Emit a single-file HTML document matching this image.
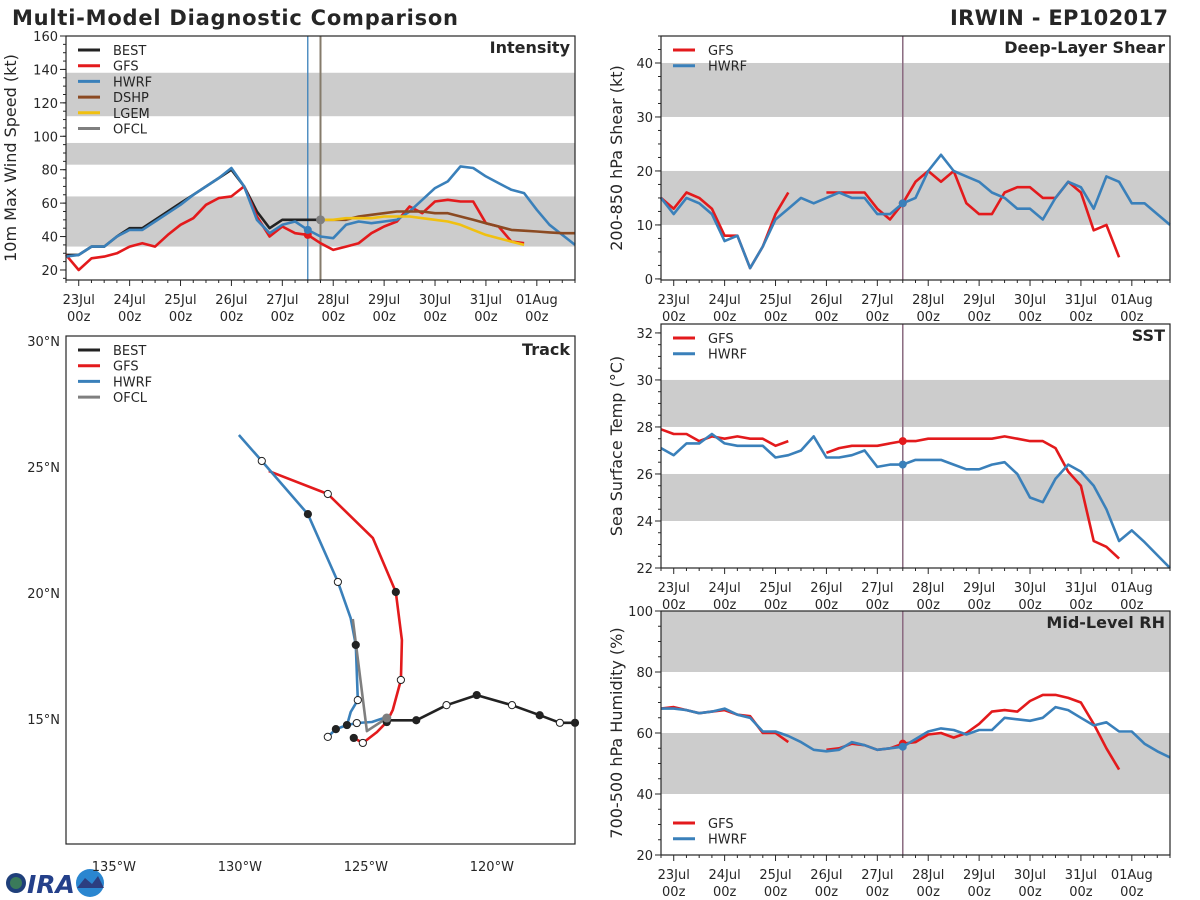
<!DOCTYPE html>
<html><head><meta charset="utf-8"><style>
html,body{margin:0;padding:0;background:#fff;}
svg{display:block;font-family:"DejaVu Sans","Liberation Sans",sans-serif;}
</style></head><body>
<svg id="fig" width="1200" height="900" viewBox="0 0 1200 900" xmlns="http://www.w3.org/2000/svg">
<text x="12" y="25" font-size="21" font-weight="bold" fill="#262626" textLength="446">Multi-Model Diagnostic Comparison</text>
<text x="1168" y="25" font-size="21" font-weight="bold" fill="#262626" text-anchor="end" textLength="218">IRWIN - EP102017</text>
<g>
<circle cx="16" cy="883" r="10" fill="#1f3f7a"/><circle cx="16" cy="883" r="6" fill="#3a7a5a"/>
<text x="27" y="893" font-size="25" font-weight="bold" fill="#24408a" font-style="italic">IRA</text>
<circle cx="90" cy="883" r="14" fill="#2a86d0"/><path d="M77 888 L85 878 L92 884 L98 876 L104 888 Z" fill="#2c3e80"/>
</g>
</svg>
<script>
// ---- Data (6-hourly, index 0 = 22Jul 18z) ----
const dayLabels = ['23Jul','24Jul','25Jul','26Jul','27Jul','28Jul','29Jul','30Jul','31Jul','01Aug'];
const intTicks = [20,40,60,80,100,120,140,160];
const shearTicks = [0,10,20,30,40];
const sstTicks = [22,24,26,28,30,32];
const rhTicks = [20,40,60,80,100];
const N = null;
const intBEST = [29,29,34,34,40,45,45,50,55,60,65,70,75,80,70,55,45,50,50,50,50];
const intGFS = [29,20,27,28,30,34,36,34,41,47,51,59,63,64,70,52,40,46,42,41,36,32,34,36,42,46,49,58,54,61,62,61,61,48,46,37,36];
const intHWRF = [28,29,34,34,40,44,44,49,54,59,65,70,75,81,70,50,42,47,49,44,40,39,47,49,48,49,50,55,62,69,73,82,81,76,72,68,66,56,47,41,35];
const intDSHP = [N,N,N,N,N,N,N,N,N,N,N,N,N,N,N,N,N,N,N,N,50,50,50,52,53,54,55,55,55,54,54,52,50,48,46,44,43.5,43,42.5,42,42];
const intLGEM = [N,N,N,N,N,N,N,N,N,N,N,N,N,N,N,N,N,N,N,N,50,50,51,51,51,52,52,52,51,50,49,47,44,41,39,37,35];
const intOFCL = [N,N,N,N,N,N,N,N,N,N,N,N,N,N,N,N,N,N,N,N,50,N,50,N,55,N,55,N,55,N,51,N,45];
const shearGFS = [15,13,16,15,13,8,8,2,6,12,16,N,N,16,16,16,16,13,11,14,18,20,18,20,14,12,12,16,17,17,15,15,18,16,9,10,4];
const shearHWRF = [15,12,15,14,12,7,8,2,6,11,13,15,14,15,16,15,15,12,12,14,15,20,23,20,19,18,16,15,13,13,11,15,18,17,13,19,18,14,14,12,10];
const sstGFS = [27.9,27.7,27.7,27.4,27.6,27.5,27.6,27.5,27.5,27.2,27.4,N,N,26.9,27.1,27.2,27.2,27.2,27.3,27.4,27.4,27.5,27.5,27.5,27.5,27.5,27.5,27.6,27.5,27.4,27.4,27.1,26.1,25.5,23.15,22.9,22.4];
const sstHWRF = [27.1,26.8,27.3,27.3,27.7,27.3,27.2,27.2,27.2,26.7,26.8,27.0,27.6,26.7,26.7,26.8,27.0,26.3,26.4,26.4,26.6,26.6,26.6,26.4,26.2,26.2,26.4,26.5,26.0,25.0,24.8,25.8,26.4,26.1,25.5,24.5,23.15,23.6,23.1,22.55,22.0];
const rhGFS = [68,68.5,67.5,66.5,67,67.5,66,65.5,60,60,57,N,N,54.5,55,56.5,56,54.5,55,56.5,57,59.5,60,58.5,60,63,67,67.5,67,70.5,72.5,72.5,71.5,70,63,55,48];
const rhHWRF = [68,68,67.5,66.5,67,68,66,65,60.5,60.5,59,57,54.5,54,54.5,57,56,54.5,55,55.5,58,60.5,61.5,61,59.5,61,61,65,64.5,64,65,68.5,67.5,65,62.5,63.5,60.5,60.5,56.5,54,52];
const initIndex = 19;
// Track (lon, lat)
const bestLon = [-116.7,-117.3,-118.1,-119.2,-120.6,-121.8,-123.0,-124.1];
const bestLat = [14.85,14.85,15.15,15.55,15.95,15.55,14.95,14.95];
const gfsLon = [-125.48,-125.12,-124.56,-124.17,-123.93,-123.61,-123.57,-123.81,-124.72,-126.51,-128.85];
const gfsLat = [14.25,14.05,14.48,14.88,15.36,16.55,18.13,20.04,22.18,23.93,24.84];
const hwrfLonA = [-124.17,-124.76,-125.36,-125.75,-126.19,-126.51];
const hwrfLatA = [15.08,14.88,14.84,14.76,14.6,14.29];
const hwrfLonB = [-125.75,-125.6,-125.32,-125.4,-125.6,-126.11,-127.3,-129.13,-130.04];
const hwrfLatB = [14.76,15.28,15.75,17.94,19.0,20.44,23.13,25.24,26.27];
const ofclLon = [-124.17,-124.96,-125.52];
const ofclLat = [15.04,14.52,18.97];
const lonTicks = [-135,-130,-125,-120];
const latTicks = [15,20,25,30];

const C = {BEST:'#222222',GFS:'#e31a1c',HWRF:'#3a80ba',DSHP:'#8b4a22',LGEM:'#f0c010',OFCL:'#7f7f7f'};
const NS='http://www.w3.org/2000/svg';
const svg=document.getElementById('fig');
function mk(tag,attrs,parent){const e=document.createElementNS(NS,tag);for(const k in attrs)e.setAttribute(k,attrs[k]);(parent||svg).appendChild(e);return e;}

function timePanel(p){
  const g=mk('g',{});
  
  
  const X=t=>p.x0+(t/40)*(p.x1-p.x0);
  const Y=v=>p.y1-(v-p.ymin)/(p.ymax-p.ymin)*(p.y1-p.y0);
  p.bands.forEach(b=>{const r=mk('rect',{x:p.x0,y:Y(b[1]),width:p.x1-p.x0,height:Y(b[0])-Y(b[1]),fill:'#cccccc'},g);
    
    });
  for(let t=0;t<=40;t++){const maj=(t-1)%4===0;mk('line',{x1:X(t),x2:X(t),y1:p.y1,y2:p.y1+(maj?6:3),stroke:'#262626','stroke-width':1},g);}
  dayLabels.forEach((d,i)=>{const t=1+4*i;
    const a=mk('text',{x:X(t),y:p.y1+24,'font-size':13,'text-anchor':'middle',fill:'#262626'},g);a.textContent=d;
    
    
    const b=mk('text',{x:X(t),y:p.y1+41,'font-size':13,'text-anchor':'middle',fill:'#262626'},g);b.textContent='00z';
    
    });
  for(let v=p.ymin0;v<=p.ymax+1e-6;v+=p.minor){mk('line',{x1:p.x0,x2:p.x0-3,y1:Y(v),y2:Y(v),stroke:'#262626','stroke-width':1},g);}
  p.ticks.forEach(v=>{mk('line',{x1:p.x0,x2:p.x0-6,y1:Y(v),y2:Y(v),stroke:'#262626','stroke-width':1},g);
    const t=mk('text',{x:p.x0-8,y:Y(v)+5,'font-size':13,'text-anchor':'end',fill:'#262626'},g);t.textContent=v;
    
    });
  const yl=mk('text',{x:0,y:0,'font-size':16,'text-anchor':'middle',fill:'#262626',transform:`translate(${p.ylx},${(p.y0+p.y1)/2}) rotate(-90)`},g);yl.textContent=p.ylabel;
  
  
  p.vlines.forEach(v=>{const l=mk('line',{x1:X(v.t),x2:X(v.t),y1:p.y0,y2:p.y1,stroke:v.c,'stroke-width':v.w},g);
    
    });
  p.series.forEach(s=>{
    let d='',pen=false;
    s.v.forEach((v,i)=>{if(v===null){pen=false;return;}d+=(pen?'L':'M')+X(i).toFixed(1)+' '+Y(v).toFixed(1);pen=true;});
    const pa=mk('path',{d:d,fill:'none',stroke:C[s.k],'stroke-width':2.6,'stroke-linejoin':'round'},g);
    
    
    if(s.dot&&s.v[initIndex]!=null){const c=mk('circle',{cx:X(initIndex),cy:Y(s.v[initIndex]),r:4,fill:C[s.k]},g);
      
      }
  });
  if(p.ofclDot){const c=mk('circle',{cx:X(20),cy:Y(50),r:4.5,fill:C.OFCL},g);
    
    }
  mk('rect',{x:p.x0,y:p.y0,width:p.x1-p.x0,height:p.y1-p.y0,fill:'none',stroke:'#262626','stroke-width':1.2},g);
  legend(g,p.x0+12,p.legY,p.series.map(s=>s.k));
  const tt=mk('text',{x:p.x1-5,y:p.y0+17,'font-size':16,'font-weight':'bold','text-anchor':'end',fill:'#262626'},g);tt.textContent=p.title;
  
  
}
function legend(g,x,y,keys){
  keys.forEach((k,i)=>{const yy=y+i*15.7;
    const l=mk('line',{x1:x,x2:x+22,y1:yy,y2:yy,stroke:C[k],'stroke-width':3},g);
    
    
    const t=mk('text',{x:x+35,y:yy+5,'font-size':13,fill:'#262626'},g);t.textContent=k;
    
    });
}
timePanel({name:'intensity-panel',title:'Intensity',x0:66,x1:575,y0:36,y1:280,ymin:14,ymax:160,ymin0:15,minor:5,ticks:intTicks,ylabel:'10m Max Wind Speed (kt)',ylx:16,
  bands:[[34,64],[83,96],[112,138]],legY:50,ofclDot:true,
  vlines:[{t:19,c:'#3a80ba',w:1.3},{t:20,c:'#857b6b',w:2}],
  series:[{k:'BEST',v:intBEST},{k:'GFS',v:intGFS,dot:true},{k:'HWRF',v:intHWRF,dot:true},{k:'DSHP',v:intDSHP},{k:'LGEM',v:intLGEM},{k:'OFCL',v:intOFCL}]});
const vl=[{t:19,c:'#8a6a80',w:1.5}];
timePanel({name:'shear-panel',title:'Deep-Layer Shear',x0:661,x1:1170,y0:36,y1:280,ymin:-0.2,ymax:45,ymin0:0,minor:2.5,ticks:shearTicks,ylabel:'200-850 hPa Shear (kt)',ylx:622,
  bands:[[10,20],[30,40]],legY:50,vlines:vl,series:[{k:'GFS',v:shearGFS,dot:true},{k:'HWRF',v:shearHWRF,dot:true}]});
timePanel({name:'sst-panel',title:'SST',x0:661,x1:1170,y0:324,y1:568,ymin:22,ymax:32.38,ymin0:22,minor:0.5,ticks:sstTicks,ylabel:'Sea Surface Temp (°C)',ylx:622,
  bands:[[24,26],[28,30]],legY:338,vlines:vl,series:[{k:'GFS',v:sstGFS,dot:true},{k:'HWRF',v:sstHWRF,dot:true}]});
timePanel({name:'rh-panel',title:'Mid-Level RH',x0:661,x1:1170,y0:611,y1:855,ymin:20,ymax:100,ymin0:20,minor:5,ticks:rhTicks,ylabel:'700-500 hPa Humidity (%)',ylx:622,
  bands:[[40,60],[80,100]],legY:823,vlines:vl,series:[{k:'GFS',v:rhGFS,dot:true},{k:'HWRF',v:rhHWRF,dot:true}]});

// ---- Track panel ----
(function(){
  const x0=66,x1=575,y0=336,y1=844,lonMin=-136.9,lonMax=-116.7,latMin=10.04,latMax=30.2;
  const g=mk('g',{});
  
  
  const X=l=>x0+(l-lonMin)/(lonMax-lonMin)*(x1-x0);
  const Y=l=>y1-(l-latMin)/(latMax-latMin)*(y1-y0);
  lonTicks.forEach(l=>{const t=mk('text',{x:X(l),y:y1+27,'font-size':13,'text-anchor':'middle',fill:'#262626'},g);t.textContent=(-l)+'°W';
    
    });
  latTicks.forEach(l=>{const t=mk('text',{x:x0-6,y:Y(l)+5,'font-size':13,'text-anchor':'end',fill:'#262626'},g);t.textContent=l+'°N';
    
    });
  function track(k,lon,lat,name){
    const d=lon.map((v,i)=>(i?'L':'M')+X(v).toFixed(1)+' '+Y(lat[i]).toFixed(1)).join('');
    const p=mk('path',{d:d,fill:'none',stroke:C[k],'stroke-width':2.6,'stroke-linejoin':'round'},g);
    
    
  }
  function markers(lon,lat,fills){
    lon.forEach((v,i)=>{if(fills[i]===0)return;const c=mk('circle',{cx:X(v),cy:Y(lat[i]),r:3.6,fill:fills[i]===1?'#222':'#fff',stroke:'#222','stroke-width':1},g);
      
      });
  }
  track('GFS',gfsLon,gfsLat,'gfs-track');
  track('HWRF',hwrfLonA,hwrfLatA,'hwrf-track-loop');
  track('HWRF',hwrfLonB,hwrfLatB,'hwrf-track');
  track('OFCL',ofclLon,ofclLat,'ofcl-track');
  track('BEST',bestLon,bestLat,'best-track');
  markers(bestLon,bestLat,[1,2,1,2,1,2,1,0]);
  markers(gfsLon,gfsLat,[1,2,0,1,0,2,0,1,0,2,0]);
  markers(hwrfLonA,hwrfLatA,[0,0,2,0,1,2]);
  markers(hwrfLonB,hwrfLatB,[1,0,2,1,0,2,1,2,0]);
  const c=mk('circle',{cx:X(-124.17),cy:Y(15.04),r:4.5,fill:C.OFCL},g);
  
  
  mk('rect',{x:x0,y:y0,width:x1-x0,height:y1-y0,fill:'none',stroke:'#262626','stroke-width':1.2},g);
  legend(g,x0+12,350,['BEST','GFS','HWRF','OFCL']);
  const tt=mk('text',{x:x1-5,y:y0+19,'font-size':16,'font-weight':'bold','text-anchor':'end',fill:'#262626'},g);tt.textContent='Track';
  
  
})();
</script>
</body></html>
